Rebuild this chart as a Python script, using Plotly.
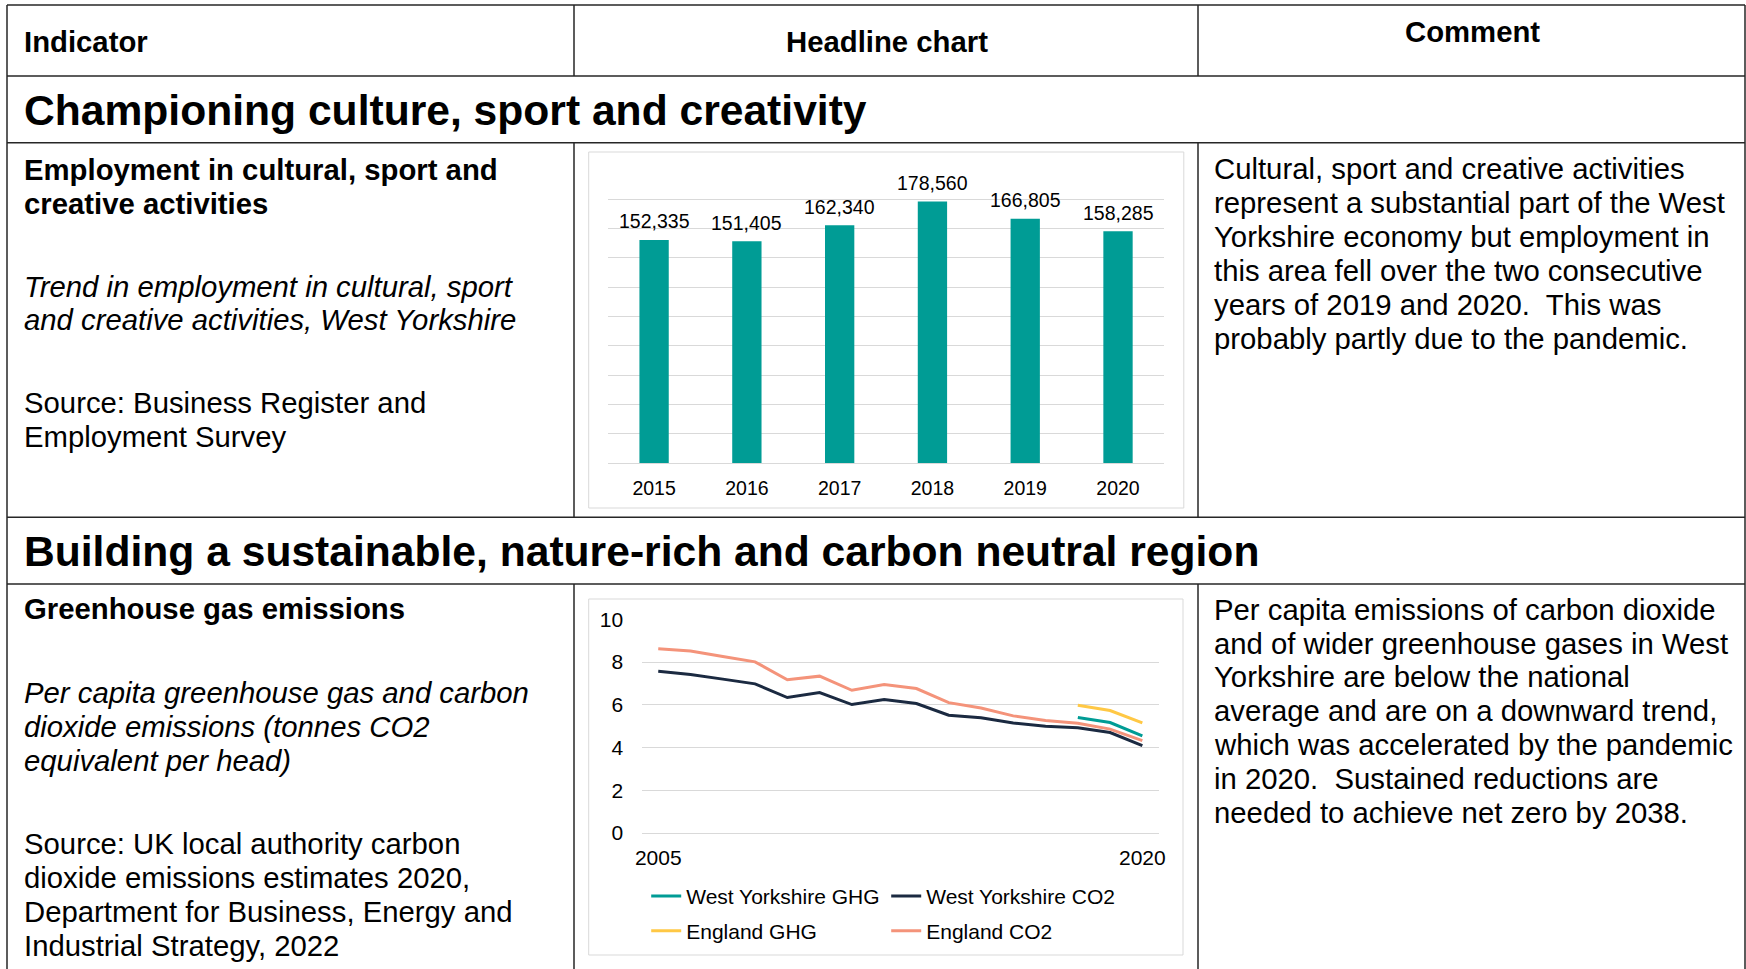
import plotly.graph_objects as go

W, H = 1746, 969

# ---- data: employment in cultural, sport and creative activities ----
bar_years = ["2015", "2016", "2017", "2018", "2019", "2020"]
employment = [152335, 151405, 162340, 178560, 166805, 158285]

# ---- data: per capita emissions (tonnes CO2e per head) ----
line_years = [2005, 2006, 2007, 2008, 2009, 2010, 2011, 2012,
              2013, 2014, 2015, 2016, 2017, 2018, 2019, 2020]
england_co2 = [8.62, 8.52, 8.26, 8.01, 7.17, 7.34, 6.68, 6.95,
               6.76, 6.10, 5.85, 5.48, 5.26, 5.14, 4.86, 4.32]
wy_co2 = [7.57, 7.42, 7.20, 6.98, 6.34, 6.57, 6.01, 6.25,
          6.06, 5.51, 5.39, 5.15, 5.00, 4.92, 4.70, 4.09]
ghg_years = [2018, 2019, 2020]
wy_ghg = [5.40, 5.17, 4.54]
england_ghg = [5.98, 5.73, 5.15]

line_xticks = [2005, 2020]

# ---- table text ----
header_cells = ["Indicator", "Headline chart", "Comment"]
section_titles = ["Championing culture, sport and creativity",
                  "Building a sustainable, nature-rich and carbon neutral region"]

row1_title = ["Employment in cultural, sport and", "creative activities"]
row1_desc = ["Trend in employment in cultural, sport",
             "and creative activities, West Yorkshire"]
row1_source = ["Source: Business Register and", "Employment Survey"]
row1_comment = ["Cultural, sport and creative activities",
                "represent a substantial part of the West",
                "Yorkshire economy but employment in",
                "this area fell over the two consecutive",
                "years of 2019 and 2020.\u00a0 This was",
                "probably partly due to the pandemic."]

row2_title = ["Greenhouse gas emissions"]
row2_desc = ["Per capita greenhouse gas and carbon",
             "dioxide emissions (tonnes CO2",
             "equivalent per head)"]
row2_source = ["Source: UK local authority carbon",
               "dioxide emissions estimates 2020,",
               "Department for Business, Energy and",
               "Industrial Strategy, 2022"]
row2_comment = ["Per capita emissions of carbon dioxide",
                "and of wider greenhouse gases in West",
                "Yorkshire are below the national",
                "average and are on a downward trend,",
                "which was accelerated by the pandemic",
                "in 2020.\u00a0 Sustained reductions are",
                "needed to achieve net zero by 2038."]

FONT = "Liberation Sans, Arial, sans-serif"
BODY = 29.3
HEAD = 42.6
PITCH = 33.9
TEAL = "#009C95"
NAVY = "#1B2A41"
SALMON = "#F4937A"
YELLOW = "#FFC845"
GRID = "#D9D9D9"
RULE = "#262626"


def fx(px):
    return px / W


def fy(py):
    return 1 - py / H


annotations = []
shapes = []


def text(x, baseline, s, size=BODY, weight="normal", style="normal", anchor="left"):
    centre = baseline - 0.3465 * size
    annotations.append(dict(
        x=fx(x), y=fy(centre), xref="paper", yref="paper",
        text=s, showarrow=False, xanchor=anchor, yanchor="middle",
        borderpad=0,
        font=dict(family=FONT, size=size, color="#000000", weight=weight, style=style),
    ))


def block(x, first_baseline, lines, **kw):
    for i, s in enumerate(lines):
        text(x, first_baseline + i * PITCH, s, **kw)


def hline(y, x0, x1, color=RULE, width=1.5):
    shapes.append(dict(type="line", xref="paper", yref="paper",
                       x0=fx(x0), x1=fx(x1), y0=fy(y), y1=fy(y),
                       line=dict(color=color, width=width), layer="below"))


def vline(x, y0, y1, color=RULE, width=1.5):
    shapes.append(dict(type="line", xref="paper", yref="paper",
                       x0=fx(x), x1=fx(x), y0=fy(y0), y1=fy(y1),
                       line=dict(color=color, width=width), layer="below"))


# ---- table rules ----
L, C1, C2, R = 7, 574, 1198, 1745
T, HB, S1B, R1B, S2B = 5, 76, 142.7, 517.3, 584
for y in (T, HB, S1B, R1B, S2B):
    hline(y, L, R)
vline(L, T, H)
vline(R, T, H)
for x in (C1, C2):
    vline(x, T, HB)
    vline(x, S1B, R1B)
    vline(x, S2B, H)

# chart frames
for (x0, y0, x1, y1) in ((588.7, 152, 1183.8, 508), (588.7, 599, 1183, 955)):
    shapes.append(dict(type="rect", xref="paper", yref="paper",
                       x0=fx(x0), x1=fx(x1), y0=fy(y1), y1=fy(y0),
                       line=dict(color=GRID, width=1), fillcolor="white", layer="below"))

# ---- table text ----
text(22.5, 52, header_cells[0], weight="bold")
text(886.5, 52, header_cells[1], weight="bold", anchor="center")
text(1472, 42, header_cells[2], weight="bold", anchor="center")
text(22.5, 124.5, section_titles[0], size=HEAD, weight="bold")
text(22.5, 565.5, section_titles[1], size=HEAD, weight="bold")

block(22.5, 179.3, row1_title, weight="bold")
block(22.5, 296.2, row1_desc, style="italic")
block(22.5, 413.1, row1_source)
block(1213, 178.8, row1_comment)

block(22.5, 619, row2_title, weight="bold")
block(22.5, 702.7, row2_desc, style="italic")
block(22.5, 854, row2_source)
block(1213, 619.3, row2_comment)

# ---- bar chart ----
fig = go.Figure()
fig.add_trace(go.Bar(x=bar_years, y=employment, marker=dict(color=TEAL, line=dict(width=0)),
                     showlegend=False, xaxis="x", yaxis="y", hoverinfo="x+y"))
# value labels above each bar (category index positions)
for i, v in enumerate(employment):
    annotations.append(dict(x=i, y=v, xref="x", yref="y", text=f"{v:,}",
                            showarrow=False, yanchor="middle", yshift=18.5,
                            font=dict(family=FONT, size=19.5, color="#000000")))

# ---- line chart ----
fig.add_trace(go.Scatter(x=ghg_years, y=wy_ghg, name="West Yorkshire GHG", mode="lines",
                         line=dict(color=TEAL, width=3), xaxis="x2", yaxis="y2",
                         legend="legend"))
fig.add_trace(go.Scatter(x=line_years, y=wy_co2, name="West Yorkshire CO2", mode="lines",
                         line=dict(color=NAVY, width=3), xaxis="x2", yaxis="y2",
                         legend="legend"))
fig.add_trace(go.Scatter(x=ghg_years, y=england_ghg, name="England GHG", mode="lines",
                         line=dict(color=YELLOW, width=3), xaxis="x2", yaxis="y2",
                         legend="legend2"))
fig.add_trace(go.Scatter(x=line_years, y=england_co2, name="England CO2", mode="lines",
                         line=dict(color=SALMON, width=3), xaxis="x2", yaxis="y2",
                         legend="legend2"))

legend_style = dict(orientation="h", xanchor="left", yanchor="top",
                    x=fx(646.2), bgcolor="rgba(0,0,0,0)", borderwidth=0,
                    entrywidth=195, entrywidthmode="pixels",
                    font=dict(family=FONT, size=21, color="#000000"))

fig.update_layout(
    template="none",
    width=W, height=H,
    margin=dict(l=0, r=0, t=0, b=0, pad=0, autoexpand=False),
    paper_bgcolor="white", plot_bgcolor="rgba(0,0,0,0)",
    font=dict(family=FONT, color="#000000"),
    bargap=0.684,
    xaxis=dict(domain=[fx(607.7), fx(1164.4)], anchor="y", type="category",
               range=[-0.5, len(bar_years) - 0.5], automargin=False,
               showgrid=False, showline=True, linecolor=GRID, linewidth=1, zeroline=False,
               ticks="", ticklabelstandoff=7,
               tickfont=dict(family=FONT, size=19.5, color="#000000"), fixedrange=True),
    yaxis=dict(domain=[fy(463.3), fy(170)], anchor="x", range=[0, 200000], dtick=20000,
               automargin=False, showline=False,
               showgrid=True, gridcolor=GRID, gridwidth=1, zeroline=False,
               showticklabels=False, ticks="", fixedrange=True),
    xaxis2=dict(domain=[fx(642.1), fx(1158.5)], anchor="y2", range=[2004.5, 2020.5],
                tickmode="array", tickvals=line_xticks, ticktext=[str(v) for v in line_xticks],
                automargin=False,
                showgrid=False, showline=True, linecolor=GRID, linewidth=1, zeroline=False,
                ticks="", ticklabelstandoff=6,
                tickfont=dict(family=FONT, size=21, color="#000000"), fixedrange=True),
    yaxis2=dict(domain=[fy(833), fy(619.3)], anchor="x2", range=[0, 10], dtick=2,
                automargin=False, showline=False,
                showgrid=True, gridcolor=GRID, gridwidth=1, zeroline=False,
                ticks="", ticklabelstandoff=18,
                tickfont=dict(family=FONT, size=21, color="#000000"), fixedrange=True),
    legend=dict(legend_style, y=fy(896 - 20.15)),
    legend2=dict(legend_style, y=fy(930.7 - 20.15)),
    annotations=annotations,
    shapes=shapes,
)

fig.write_html("out.html")
